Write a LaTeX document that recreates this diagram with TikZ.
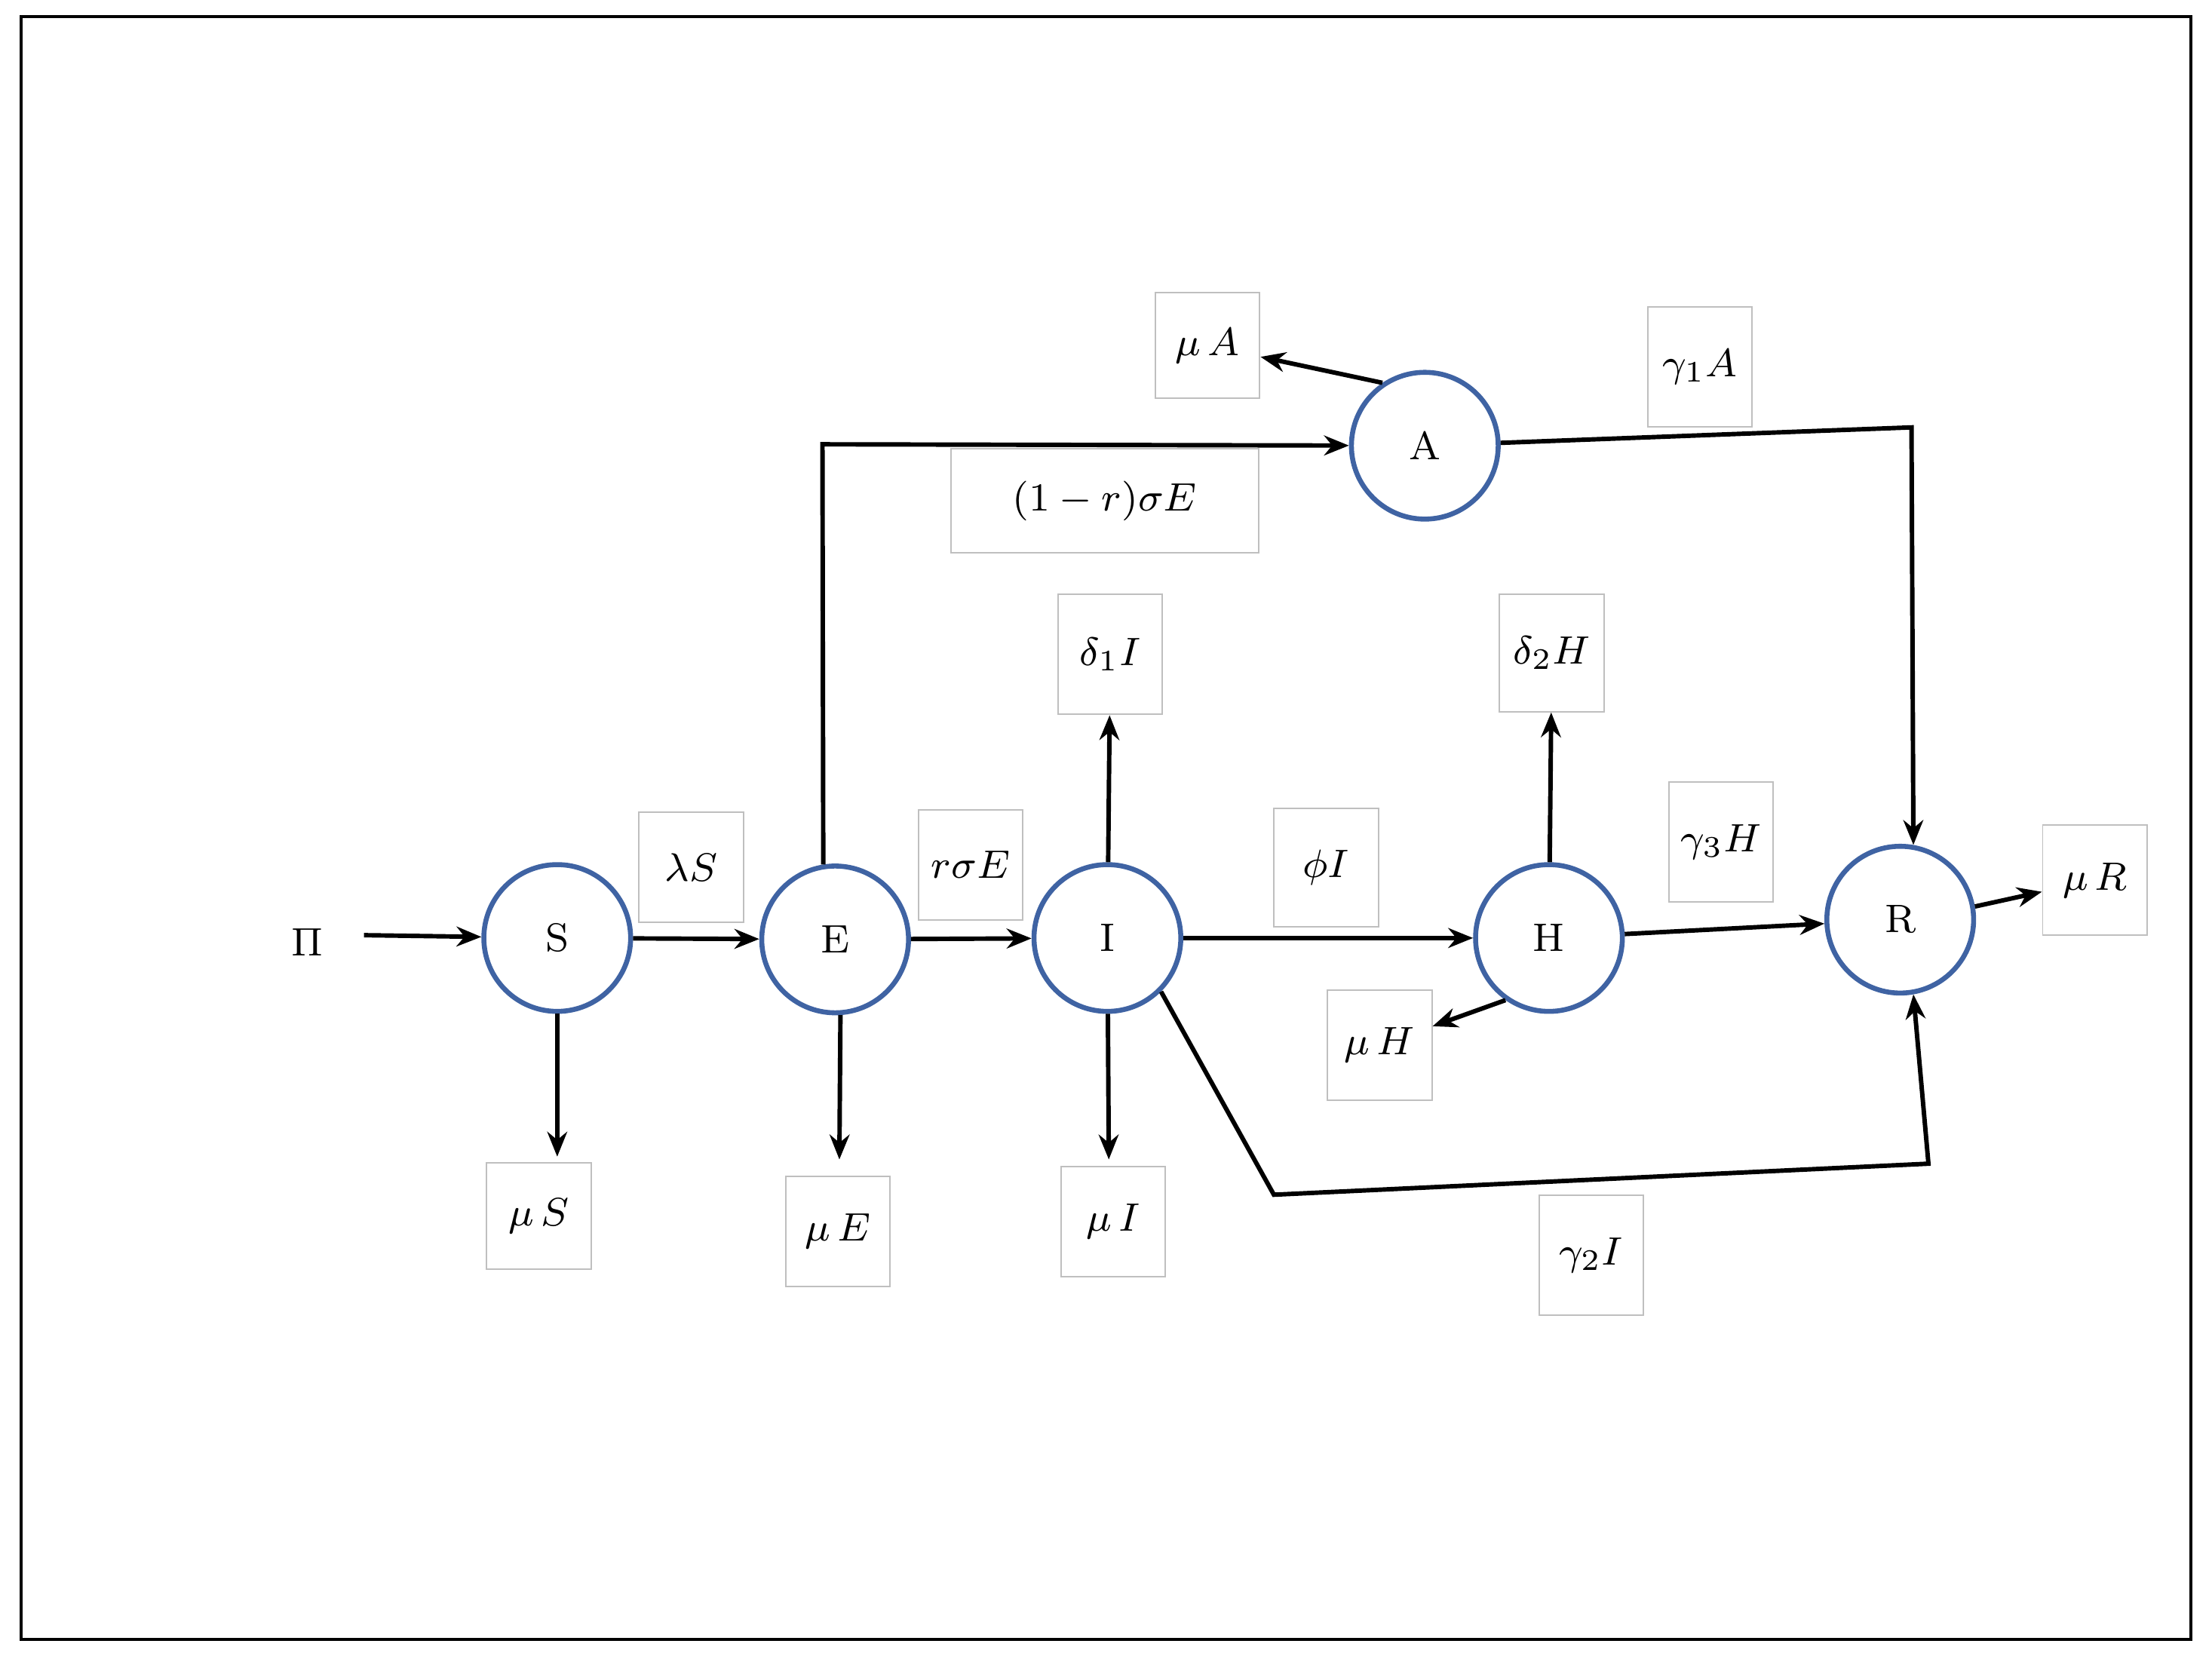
\documentclass[tikz,border=0pt]{standalone}
\usetikzlibrary{arrows.meta}
\definecolor{cblue}{HTML}{3F63A3}
\begin{document}
\begin{tikzpicture}[x=0.01cm,y=-0.01cm,font=\fontsize{8}{10}\selectfont,
  comp/.style={circle,draw=cblue,line width=1pt,minimum size=1.04cm,inner sep=0pt},
  lab/.style={draw=black!25,line width=0.3pt,minimum width=0.74cm,minimum height=0.78cm,inner sep=1pt},
  flow/.style={line width=0.9pt,-{Stealth[length=5pt,width=4pt]}},
  seg/.style={line width=0.9pt}]
\useasboundingbox (0,0) rectangle (1568,1174);
\draw[line width=0.6pt] (15,12) rectangle (1553,1162);
\node[comp] (S) at (395,665) {S};
\node[comp] (E) at (592,666) {E};
\node[comp] (I) at (785,665) {I};
\node[comp] (H) at (1098,665) {H};
\node[comp] (R) at (1347,652) {R};
\node[comp] (A) at (1010,316) {A};
\node (Pi) at (218,668) {$\Pi$};
\node[lab] (lS) at (490,615) {$\lambda S$};
\node[lab] (lrs) at (688,613) {$r\sigma E$};
\node[lab,minimum width=2.18cm,minimum height=0.74cm] (l1r) at (783,355) {$(1-r)\sigma E$};
\node[lab,minimum height=0.85cm] (d1) at (787,464) {$\delta_1 I$};
\node[lab,minimum height=0.83cm] (d2) at (1100,463) {$\delta_2 H$};
\node[lab,minimum height=0.84cm] (phi) at (940,615) {$\phi I$};
\node[lab,minimum height=0.85cm] (g3) at (1220,597) {$\gamma_3 H$};
\node[lab] (muR) at (1485,624) {$\mu\, R$};
\node[lab,minimum height=0.85cm] (g1) at (1205,260) {$\gamma_1 A$};
\node[lab,minimum height=0.75cm] (muA) at (856,245) {$\mu\, A$};
\node[lab] (muH) at (978,741) {$\mu\, H$};
\node[lab,minimum height=0.75cm] (muS) at (382,862) {$\mu\, S$};
\node[lab] (muE) at (594,873) {$\mu\, E$};
\node[lab] (muI) at (789,866) {$\mu\, I$};
\node[lab,minimum height=0.85cm] (g2) at (1128,890) {$\gamma_2 I$};
\coordinate (p0) at (258,663);
\coordinate (eu) at (583,315);
\coordinate (ar) at (1355,303);
\coordinate (ib) at (903,847);
\coordinate (rb) at (1367,825);
\coordinate (sd) at (395,820);
\coordinate (ed) at (595,822);
\coordinate (id) at (786,822);
\draw[flow] (p0) -- (S);
\draw[flow] (S) -- (E);
\draw[flow] (E) -- (I);
\draw[flow] (I) -- (H);
\draw[flow] (H) -- (R);
\draw[flow] (S) -- (sd);
\draw[flow] (E.-86) -- (ed);
\draw[flow] (I) -- (id);
\draw[flow] (I) -- (d1);
\draw[flow] (H) -- (d2);
\draw[flow] (H.-125) -- (muH);
\draw[flow] (A.124) -- (muA);
\draw[flow] (E.99) -- (eu) -- (A);
\draw[flow] (A) -- (ar) -- (R.80);
\draw[flow] (I.-45) -- (ib) -- (rb) -- (R.-80);
\draw[flow] (R.10) -- (muR);
\end{tikzpicture}
\end{document}
